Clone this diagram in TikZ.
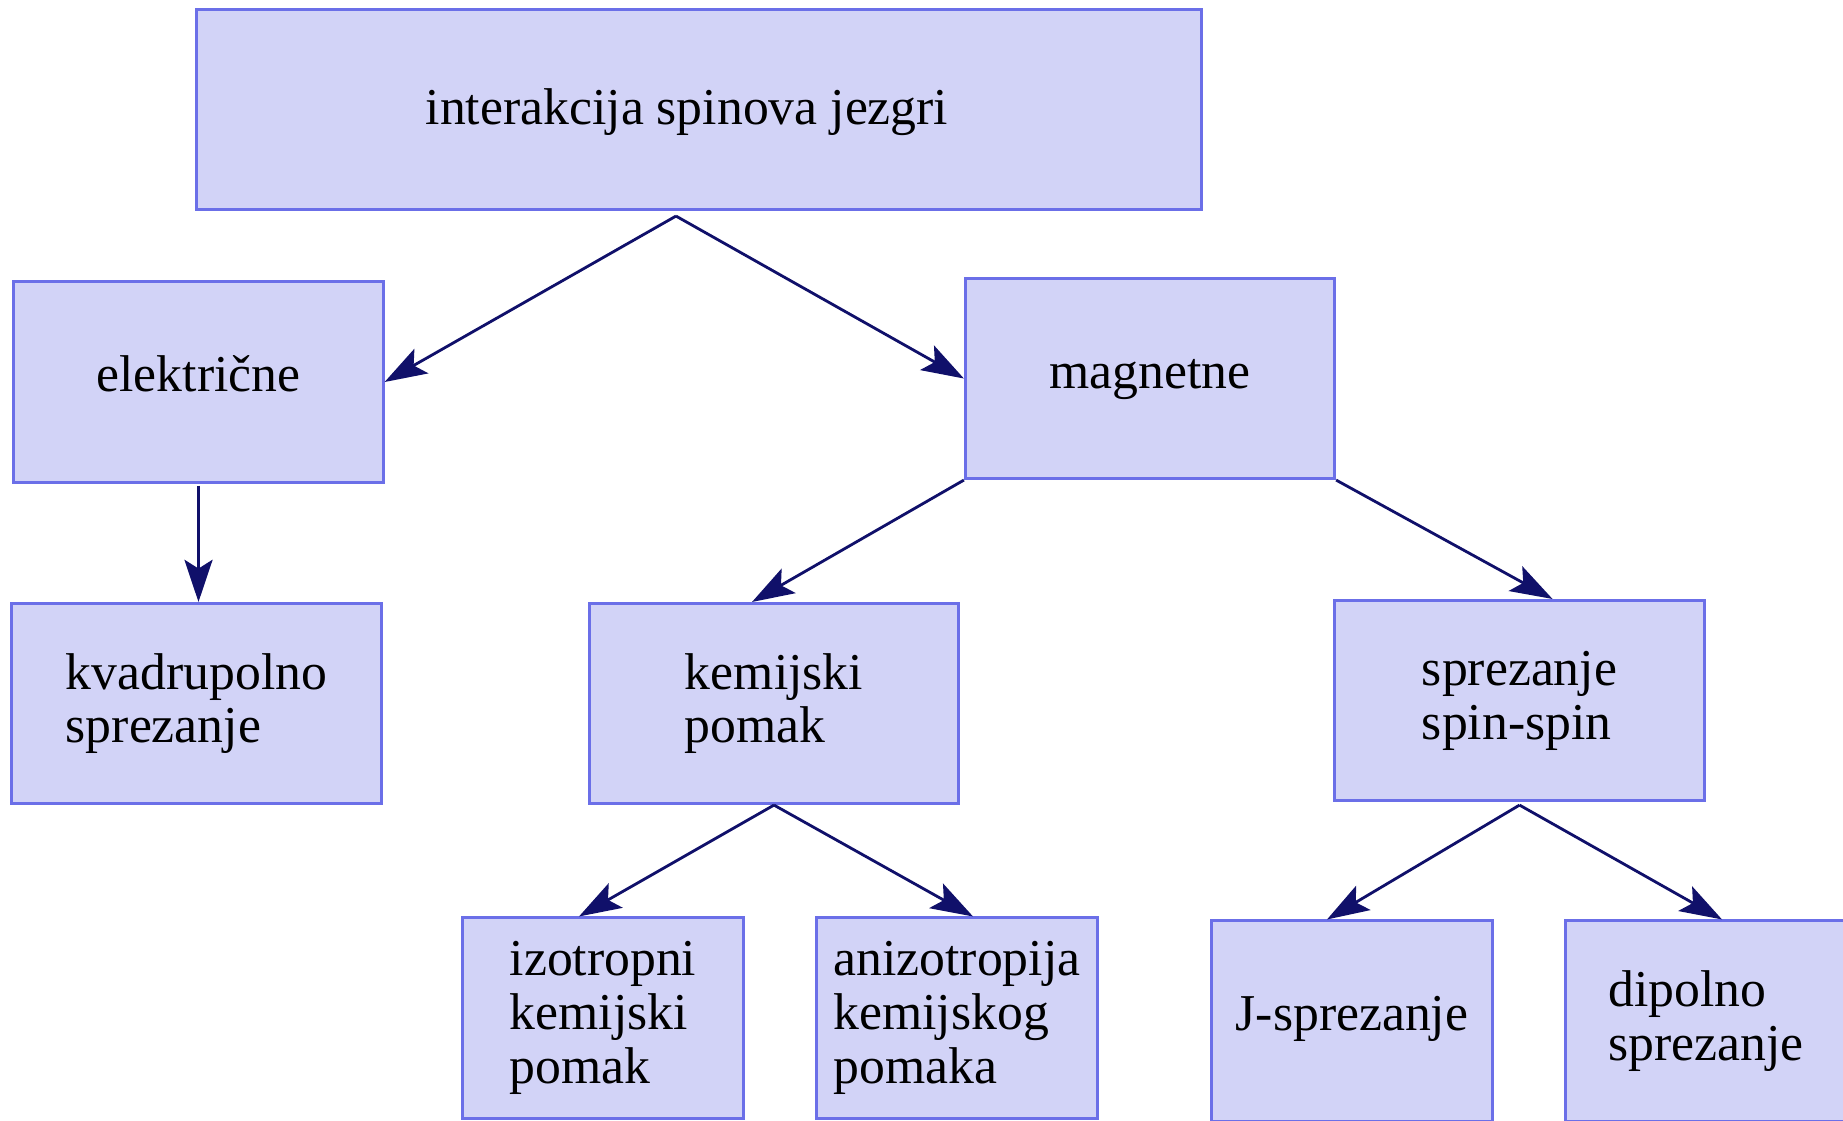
\documentclass[tikz,border=0pt]{standalone}
\usepackage{fontspec}
\setmainfont{Liberation Serif}
\usetikzlibrary{arrows.meta}

\definecolor{boxfill}{RGB}{210,211,247}
\definecolor{boxline}{RGB}{107,111,232}
\definecolor{arrowline}{RGB}{16,16,106}

\begin{document}
\begin{tikzpicture}[
            x=0.01cm, y=-0.01cm, % one unit per pixel, downwards
            box/.style={rectangle, draw=boxline, fill=boxfill, line width=0.85pt, inner sep=0pt, align=left, minimum height=2cm, font=\fontsize{14.7}{15.3}\selectfont}, % every box
            oneline/.style={text height=0.7em, text depth=0.16em}, % single line labels
            wide/.style={minimum width=3.69cm}, % middle row boxes
            narrow/.style={minimum width=2.8cm}, % bottom row boxes
            link/.style={draw=arrowline, line width=0.8pt, -{Stealth[length=12pt, width=8pt, inset=2.5pt]}} % arrows
            ]

                \useasboundingbox (0,0) rectangle (1843,1120);

                % Root
                \node[box, minimum width=10.04cm, text height=0.88em, text depth=0pt] (root) at (699,109.5) {interakcija spinova jezgri\hspace*{0.24cm}};

                % First level
                \node[box, wide, oneline] (elektricne) at (198.5,382) {električne};
                \node[box, wide, oneline] (magnetne) at (1150,378.5) {magnetne};

                % Second level
                \node[box, wide] (kvadrupolno) at (196.5,703.5) {kvadrupolno\\sprezanje};
                \node[box, wide] (kemijski) at (774,703.5) {kemijski\\pomak};
                \node[box, wide] (sprezanje) at (1519.5,700.5) {sprezanje\\spin-spin};

                % Third level
                \node[box, narrow] (izotropni) at (603,1018) {izotropni\\kemijski\\pomak};
                \node[box, narrow] (anizotropija) at (957,1018) {anizotropija\\kemijskog\\pomaka};
                \node[box, narrow, oneline] (jsprezanje) at (1352,1021) {J-sprezanje};
                \node[box, narrow] (dipolno) at (1706,1021) {dipolno\\sprezanje};

                % Arrows
                \draw[link] ([xshift=-0.23cm, yshift=-0.05cm]root.south) -- (elektricne.east);
                \draw[link] ([xshift=-0.23cm, yshift=-0.05cm]root.south) -- (magnetne.west);
                \draw[link] ([yshift=-0.02cm]elektricne.south) -- (elektricne.south |- kvadrupolno.north);
                \draw[link] (magnetne.south west) -- ([xshift=-0.22cm]kemijski.north);
                \draw[link] (magnetne.south east) -- ([xshift=0.33cm]sprezanje.north);
                \draw[link] (kemijski.south) -- ([xshift=-0.24cm]izotropni.north);
                \draw[link] (kemijski.south) -- ([xshift=0.16cm]anizotropija.north);
                \draw[link] ([yshift=-0.03cm]sprezanje.south) -- ([xshift=-0.25cm]jsprezanje.north);
                \draw[link] ([yshift=-0.03cm]sprezanje.south) -- ([xshift=0.16cm]dipolno.north);

            \end{tikzpicture}
\end{document}
